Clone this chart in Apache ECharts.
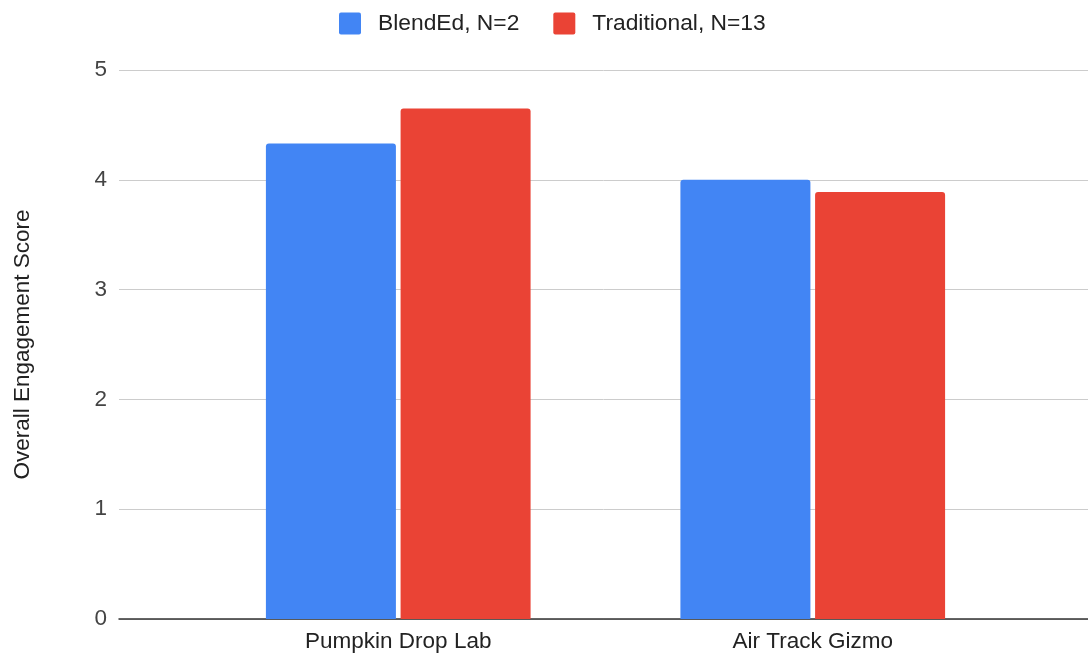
<!DOCTYPE html>
<html>
<head>
<meta charset="utf-8">
<title>Overall Engagement Score</title>
<script src="https://cdn.jsdelivr.net/npm/echarts@6/dist/echarts.min.js"></script>
<style>
  html, body { margin: 0; padding: 0; background: #fff; }
  #chart { width: 1088px; height: 656px; }
</style>
</head>
<body>
<div id="chart"></div>
<script>
// Engagement scores per lab activity, by instruction mode
const categories = ['Pumpkin Drop Lab', 'Air Track Gizmo'];
const seriesNames = ['BlendEd, N=2', 'Traditional, N=13'];
const blendedScores = [4.33, 4.0];
const traditionalScores = [4.65, 3.89];
const yTicks = [0, 1, 2, 3, 4, 5];

const FONT = '"Liberation Sans", Arial, sans-serif';
const BLUE = '#4285F4';
const RED = '#EA4335';
// square legend swatch with slightly softened corners
const SWATCH = 'path://M2,0 L20,0 Q22,0 22,2 L22,20 Q22,22 20,22 L2,22 Q0,22 0,20 L0,2 Q0,0 2,0 Z';

const chart = echarts.init(document.getElementById('chart'), null, { renderer: 'canvas' });

chart.setOption({
  backgroundColor: '#ffffff',
  animation: false,
  textStyle: { fontFamily: FONT },
  legend: {
    left: 334,
    top: 7,
    itemWidth: 22,
    itemHeight: 22,
    itemGap: 34,
    icon: SWATCH,
    textStyle: { fontFamily: FONT, fontSize: 22.8, color: '#222222', padding: [0, 0, 0, 12] },
    data: seriesNames
  },
  grid: [
    // full-width frame carrying the value scale, gridlines and baseline
    { left: 119, right: 0, top: 70, bottom: 37 },
    // narrower band where the category groups sit
    { left: 191, width: 829, top: 70, bottom: 37 }
  ],
  xAxis: [
    {
      type: 'category',
      gridIndex: 0,
      data: [''],
      axisLine: { show: true, lineStyle: { color: '#333333', width: 1.5 } },
      axisTick: { show: false },
      axisLabel: { show: false },
      splitLine: { show: false }
    },
    {
      type: 'category',
      gridIndex: 1,
      data: categories,
      axisLine: { show: false },
      axisTick: { show: false },
      axisLabel: { fontFamily: FONT, fontSize: 22.5, color: '#222222', margin: 11 },
      splitLine: { show: false }
    }
  ],
  yAxis: [
    {
      type: 'value',
      gridIndex: 0,
      min: yTicks[0],
      max: yTicks[yTicks.length - 1],
      interval: 1,
      name: 'Overall Engagement Score',
      nameLocation: 'middle',
      nameGap: 85,
      nameTextStyle: { fontFamily: FONT, fontSize: 22.5, color: '#222222' },
      axisLine: { show: false },
      axisTick: { show: false },
      axisLabel: { fontFamily: FONT, fontSize: 22.5, color: '#444444', margin: 12, padding: [3, 0, 0, 0] },
      splitLine: { show: true, lineStyle: { color: '#cccccc', width: 1 } }
    },
    {
      type: 'value',
      gridIndex: 1,
      min: yTicks[0],
      max: yTicks[yTicks.length - 1],
      interval: 1,
      show: false,
      splitLine: { show: false }
    }
  ],
  series: [
    {
      name: seriesNames[0],
      type: 'bar',
      xAxisIndex: 1,
      yAxisIndex: 1,
      data: blendedScores,
      barWidth: 130,
      barGap: '3.6%',
      itemStyle: { color: BLUE, borderRadius: [3, 3, 0, 0] }
    },
    {
      name: seriesNames[1],
      type: 'bar',
      xAxisIndex: 1,
      yAxisIndex: 1,
      data: traditionalScores,
      barWidth: 130,
      barGap: '3.6%',
      itemStyle: { color: RED, borderRadius: [3, 3, 0, 0] }
    }
  ]
});
</script>
</body>
</html>
